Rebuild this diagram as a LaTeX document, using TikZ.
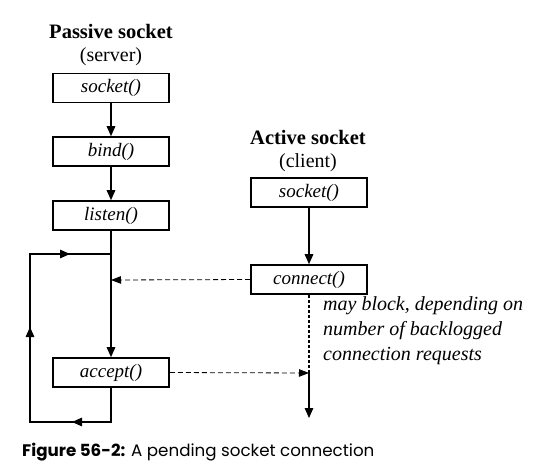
\documentclass[tikz,border=0pt]{standalone}
\usepackage{fontspec}
\setmainfont{Liberation Serif}
\newfontfamily\capfont{Poppins}
\usetikzlibrary{arrows.meta}
\begin{document}
\begin{tikzpicture}[x=1pt,y=-1pt,
  fn/.style={draw,line width=1.6pt,minimum width=116pt,minimum height=29pt,inner sep=0pt,font=\fontsize{19}{21}\selectfont\itshape},
  flow/.style={line width=1.4pt,-{Triangle[length=10pt,width=8.5pt]}},
  plain/.style={line width=1.4pt},
  dashline/.style={line width=1.2pt,dash pattern=on 3pt off 2pt},
  dasharr/.style={line width=0.8pt,dash pattern=on 5pt off 3pt,-{Triangle[length=10pt,width=7.5pt]}},
  ttl/.style={font=\fontsize{20.5}{23}\selectfont\bfseries},
  sub/.style={font=\fontsize{20}{23}\selectfont},
  note/.style={font=\fontsize{20}{25}\selectfont\itshape,align=left,anchor=north west,inner sep=0pt}]
\useasboundingbox (0,0) rectangle (536,467);
% passive
\node[ttl] (pt) at (111,31) {Passive socket};
\node[sub] (ps) at (111,57) {(server)};
\node[fn] (s1) at (111,88) {socket()};
\node[fn] (b1) at (111,151.5) {bind()};
\node[fn] (l1) at (111,215.5) {listen()};
\node[fn] (a1) at (111,372.5) {accept()};
\coordinate (j) at (111,254);
\coordinate (pc) at (111,280);
\coordinate (tl) at (30,254);
\coordinate (bl) at (30,422);
\coordinate (br) at (111,422);
\draw[flow] (s1) -- (b1);
\draw[flow] (b1) -- (l1);
\draw[flow] (l1) -- (a1);
\draw[plain] (a1.south) -- (br) -- (bl) -- (tl) -- (j);
\draw[flow] (bl) -- (30,327);
\draw[flow] (tl) -- (70,254);
\draw[flow] (br) -- (72,422);
% active
\node[ttl] (at) at (308,137) {Active socket};
\node[sub] (as) at (308,163) {(client)};
\node[fn] (s2) at (309,192.5) {socket()};
\node[fn] (c2) at (309,279.5) {connect()};
\coordinate (cm) at (309,373);
\coordinate (ce) at (309,418);
\draw[flow] (s2) -- (c2);
\draw[dashline] (c2.south) -- (cm);
\draw[flow] (cm) -- (ce);
\draw[dasharr] (c2.west) -- (pc);
\draw[dasharr] (a1.east) -- (cm);
\node[note] (nt) at (323,296) {may block, depending on\\number of backlogged\\connection requests};
% caption
\node[font=\capfont\fontsize{16.7}{19}\selectfont,anchor=west,inner sep=0pt] (cap) at (22,452) {\textbf{Figure 56-2:} A pending socket connection};
\end{tikzpicture}
\end{document}
